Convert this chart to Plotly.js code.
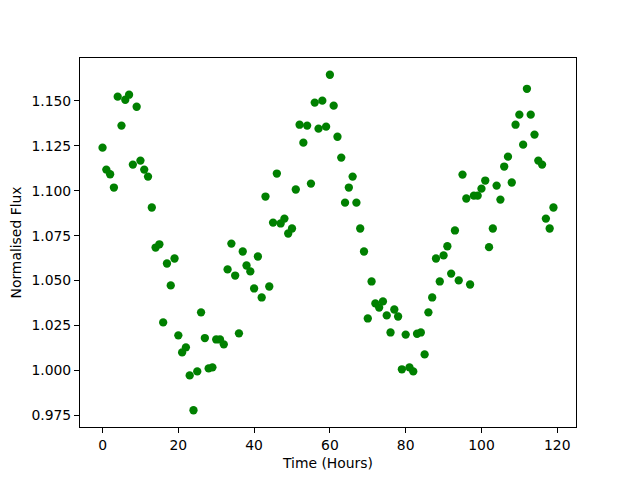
<!DOCTYPE html>
<html>
<head>
<meta charset="utf-8">
<script src="https://cdn.plot.ly/plotly-3.0.1.min.js"></script>
<style>html,body{margin:0;padding:0;background:#fff;}#chart{width:640px;height:480px;}</style>
</head>
<body>
<div id="chart"></div>
<script>
const hours = Array.from({length: 120}, (_, i) => i);
const flux = [
  1.1240, 1.1118, 1.1092, 1.1018, 1.1524, 1.1363, 1.1507, 1.1535, 1.1146, 1.1468,
  1.1168, 1.1118, 1.1079, 1.0907, 1.0684, 1.0702, 1.0267, 1.0595, 1.0473, 1.0623,
  1.0195, 1.0100, 1.0128, 0.9972, 0.9778, 0.9994, 1.0323, 1.0180, 1.0011, 1.0017,
  1.0172, 1.0172, 1.0145, 1.0562, 1.0706, 1.0528, 1.0206, 1.0662, 1.0584, 1.0551,
  1.0456, 1.0634, 1.0406, 1.0968, 1.0467, 1.0823, 1.1096, 1.0818, 1.0845, 1.0762,
  1.0790, 1.1007, 1.1368, 1.1268, 1.1363, 1.1040, 1.1491, 1.1346, 1.1502, 1.1357,
  1.1646, 1.1474, 1.1301, 1.1185, 1.0934, 1.1018, 1.1079, 1.0934, 1.0790, 1.0662,
  1.0289, 1.0495, 1.0373, 1.0350, 1.0384, 1.0306, 1.0211, 1.0339, 1.0300, 1.0006,
  1.0199, 1.0017, 0.9994, 1.0204, 1.0211, 1.0089, 1.0323, 1.0406, 1.0623, 1.0495,
  1.0640, 1.0691, 1.0539, 1.0779, 1.0501, 1.1090, 1.0957, 1.0478, 1.0973, 1.0973,
  1.1012, 1.1057, 1.0686, 1.0790, 1.1029, 1.0951, 1.1135, 1.1190, 1.1046, 1.1368,
  1.1424, 1.1257, 1.1568, 1.1424, 1.1313, 1.1168, 1.1146, 1.0845, 1.0790, 1.0907
];
const xTicks = [0, 20, 40, 60, 80, 100, 120];
const yTicks = [0.975, 1.000, 1.025, 1.050, 1.075, 1.100, 1.125, 1.150];

const xmin = Math.min(...hours), xmax = Math.max(...hours);
const ymin = Math.min(...flux), ymax = Math.max(...flux);
const xpad = (xmax - xmin) * 0.05, ypad = (ymax - ymin) * 0.05;

const font = {family: 'DejaVu Sans, sans-serif', size: 13.9, color: '#000'};
const axisCommon = {
  showline: true, mirror: true, linecolor: '#000', linewidth: 1,
  ticks: 'outside', ticklen: 5, tickwidth: 1, tickcolor: '#000',
  showgrid: false, zeroline: false, tickfont: font, automargin: false
};

Plotly.newPlot('chart', [{
  x: hours, y: flux, type: 'scatter', mode: 'markers',
  marker: {color: '#008000', size: 8.3, line: {width: 0}},
  hoverinfo: 'skip'
}], {
  width: 640, height: 480,
  margin: {l: 80, r: 64, t: 58, b: 53, pad: 0},
  paper_bgcolor: '#fff', plot_bgcolor: '#fff',
  showlegend: false,
  font: font,
  xaxis: Object.assign({}, axisCommon, {
    range: [xmin - xpad, xmax + xpad],
    tickvals: xTicks, ticktext: xTicks.map(String),
    title: {text: 'Time (Hours)', font: font, standoff: 6}
  }),
  yaxis: Object.assign({}, axisCommon, {
    range: [ymin - ypad, ymax + ypad],
    tickvals: yTicks, ticktext: yTicks.map(v => v.toFixed(3)),
    title: {text: 'Normalised Flux', font: font, standoff: 6}
  })
}, {staticPlot: true});
</script>
</body>
</html>
